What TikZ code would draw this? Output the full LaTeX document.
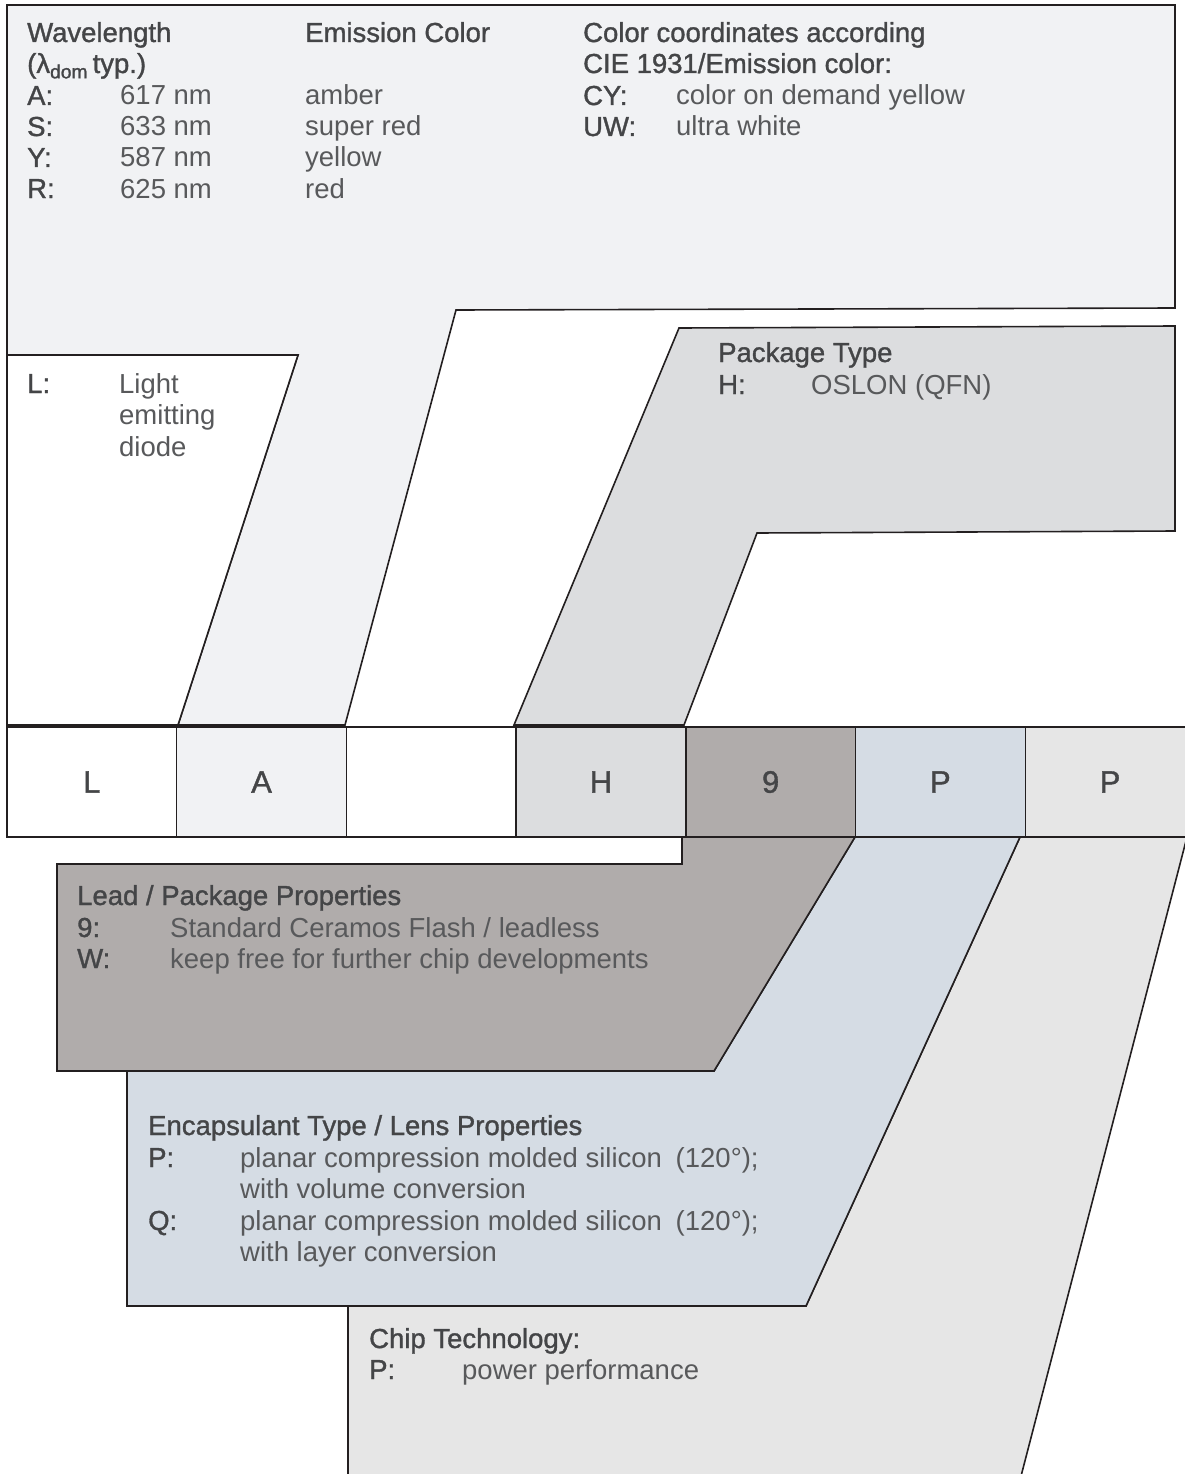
\documentclass[tikz,border=0pt]{standalone}
\usepackage{fontspec}
\setmainfont{Liberation Sans}
\newfontfamily\headfont{Liberation Sans}[BoldFont={Liberation Sans},
  BoldFeatures={FakeBold=1.2}]
\usepackage{tikz}
\usetikzlibrary{positioning}
\definecolor{wavefill}{HTML}{F1F2F4}
\definecolor{pkgfill}{HTML}{DCDDDF}
\definecolor{leadfill}{HTML}{B0ACAB}
\definecolor{encfill}{HTML}{D5DCE4}
\definecolor{chipfill}{HTML}{E6E6E6}
\definecolor{txtgray}{HTML}{58595B}
\definecolor{hdgray}{HTML}{444547}
\definecolor{linegray}{HTML}{231F20}
\tikzset{part/.style = {draw=linegray, line width=1.6pt, line join=miter},
  cell/.style = {draw=linegray, line width=1.4pt, minimum width=169.7pt,
    minimum height=110pt, inner sep=0pt, outer sep=0pt, text=hdgray,
    font=\headfont\bfseries\fontsize{31}{31}\selectfont},
  strip/.style = {draw=linegray, line width=2.4pt},
  txt/.style = {anchor=base west, inner sep=0pt, text=txtgray,
    font=\fontsize{27.5}{31}\selectfont},
  hd/.style = {txt, text=hdgray, font=\headfont\bfseries\fontsize{27.5}{31}\selectfont}}

\begin{document}
\begin{tikzpicture}[x=1pt,y=-1pt]
  \useasboundingbox (0,0) rectangle (1185,1474);
  \clip (0,0) rectangle (1185,1474);
  % upper parts
  \draw[part, fill=wavefill] (7,5) -- (1175,5) -- (1175,308) -- (456,310)
    -- (345,725) -- (178,725) -- (298,355) -- (7,355) -- cycle;
  \draw[part, fill=white] (7,355) -- (298,355) -- (178,725) -- (7,725) -- cycle;
  \draw[part, fill=pkgfill] (679,328) -- (1175,326) -- (1175,531) -- (757,533)
    -- (684,725) -- (514,725) -- cycle;
  % lower parts
  \draw[part, fill=chipfill] (1020,837) -- (1187,837) -- (1020,1480)
    -- (348,1480) -- (348,1306) -- (806,1306) -- cycle;
  \draw[part, fill=encfill] (855,837) -- (1020,837) -- (806,1306) -- (127,1306)
    -- (127,1071) -- (714,1071) -- cycle;
  \draw[part, fill=leadfill] (682,837) -- (682,864) -- (57,864) -- (57,1071)
    -- (714,1071) -- (855,837) -- cycle;
  % type code
  \node[cell] (cL) at (91.85,782) {L};
  \node[cell, fill=wavefill, right=0pt of cL] (cA) {A};
  \node[cell, right=0pt of cA] (cX) {};
  \node[cell, fill=pkgfill, right=0pt of cX] (cH) {H};
  \node[cell, fill=leadfill, right=0pt of cH] (c9) {9};
  \node[cell, fill=encfill, right=0pt of c9] (cP) {P};
  \node[cell, fill=chipfill, right=0pt of cP] (cT) {P};
  \draw[strip] (cL.north west) -- (cT.north east);
  \draw[strip] (cL.south west) -- (cT.south east);
  % wavelength
  \node[hd] (wl) at (27,42) {Wavelength};
  \node[hd] (wlsub) at (27,73) {(λ\textsubscript{dom}\,typ.)};
  \node[hd] (kA) at (27,105) {A:};  \node[txt] (vA) at (120,105) {617 nm};
  \node[hd] (kS) at (27,136) {S:};  \node[txt] (vS) at (120,136) {633 nm};
  \node[hd] (kY) at (27,167) {Y:};  \node[txt] (vY) at (120,167) {587 nm};
  \node[hd] (kR) at (27,198) {R:};  \node[txt] (vR) at (120,198) {625 nm};
  % emission color
  \node[hd] (ec) at (305,42) {Emission Color};
  \node[txt] (eA) at (305,105) {amber};
  \node[txt] (eS) at (305,136) {super red};
  \node[txt] (eY) at (305,167) {yellow};
  \node[txt] (eR) at (305,198) {red};
  % color coordinates
  \node[hd] (cc) at (583,42) {Color coordinates according};
  \node[hd] (cie) at (583,73) {CIE 1931/Emission color:};
  \node[hd] (kCY) at (583,105) {CY:};  \node[txt] (vCY) at (676,105) {color on demand yellow};
  \node[hd] (kUW) at (583,136) {UW:};  \node[txt] (vUW) at (676,136) {ultra white};
  % LED
  \node[hd] (kL) at (27,393) {L:};
  \node[txt] (vL) at (119,393) {Light};
  \node[txt] (vL2) at (119,424) {emitting};
  \node[txt] (vL3) at (119,456) {diode};
  % package
  \node[hd] (pt) at (718,362) {Package Type};
  \node[hd] (kH) at (718,394) {H:};  \node[txt] (vH) at (811,394) {OSLON (QFN)};
  % lead
  \node[hd] (lp) at (77,905) {Lead / Package Properties};
  \node[hd] (k9) at (77,937) {9:};  \node[txt] (v9) at (170,937) {Standard Ceramos Flash / leadless};
  \node[hd] (kW) at (77,968) {W:};  \node[txt] (vW) at (170,968) {keep free for further chip developments};
  % encapsulant
  \node[hd] (et) at (148,1135) {Encapsulant Type / Lens Properties};
  \node[hd] (kP) at (148,1167) {P:};
  \node[txt] (vP) at (240,1167) {planar compression molded silicon\hspace{0.5em}(120°);};
  \node[txt] (vP2) at (240,1198) {with volume conversion};
  \node[hd] (kQ) at (148,1230) {Q:};
  \node[txt] (vQ) at (240,1230) {planar compression molded silicon\hspace{0.5em}(120°);};
  \node[txt] (vQ2) at (240,1261) {with layer conversion};
  % chip
  \node[hd] (ct) at (369,1348) {Chip Technology:};
  \node[hd] (kPc) at (369,1379) {P:};  \node[txt] (vPc) at (462,1379) {power performance};
\end{tikzpicture}
\end{document}
